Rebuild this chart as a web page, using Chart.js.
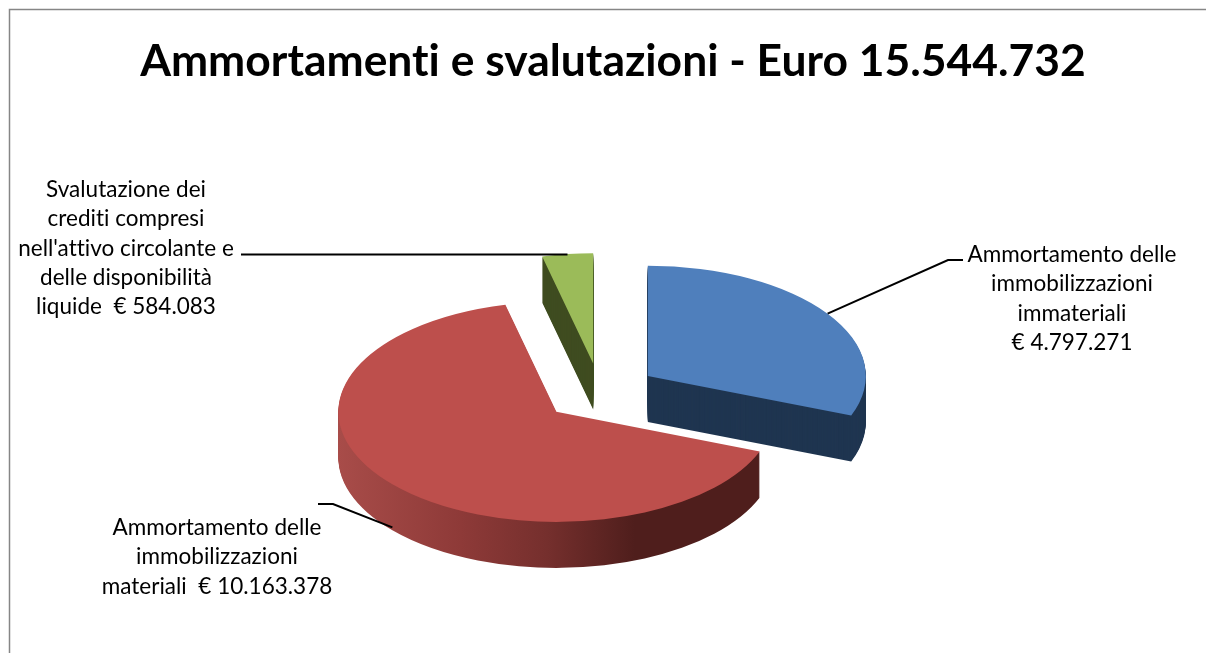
<!DOCTYPE html>
<html>
<head>
<meta charset="utf-8">
<title>Ammortamenti e svalutazioni</title>
<script src="https://cdn.jsdelivr.net/npm/chart.js@4/dist/chart.umd.min.js"></script>
<style>
  html, body { margin: 0; padding: 0; background: #fff; overflow: hidden; }
  #wrap { position: relative; width: 1206px; height: 653px; }
</style>
</head>
<body>
<div id="wrap"><canvas id="chart" width="1206" height="653"></canvas></div>
<script>
const chartTitle = 'Ammortamenti e svalutazioni - Euro 15.544.732';
const categories = [
  'Ammortamento delle immobilizzazioni immateriali',
  'Ammortamento delle immobilizzazioni materiali',
  'Svalutazione dei crediti compresi nell\'attivo circolante e delle disponibilità liquide'
];
const values = [4797271, 10163378, 584083];
const labelLines = [
  ['Ammortamento delle', 'immobilizzazioni', 'immateriali', '€ 4.797.271'],
  ['Ammortamento delle', 'immobilizzazioni', 'materiali  € 10.163.378'],
  ['Svalutazione dei', 'crediti compresi', 'nell\'attivo circolante e', 'delle disponibilità', 'liquide  € 584.083']
];

const topColors = ['#4f7fbc', '#bd4f4c', '#9bbb59'];
const sideColors = ['#1f3550', null, '#3f4c20'];

// pie "3D" geometry
const pieX = 600, pieY = 392.5;
const radius = 218;
const squash = 0.505;
const explode = 58;
const depth = 46;

// label placement: text centre, first baseline, elbow points of the leader
const labelPos = [
  { x: 1072, y: 262, leader: [[948, 260], [963, 260]] },
  { x: 217, y: 535, leader: [[333, 504], [318, 504]] },
  { x: 126, y: 197, leader: [[241, 254.5]] }
];
const lineStep = 29.3;

const fake3d = {
  id: 'fake3d',
  // no ligatures, the original has a plain "ti"
  beforeDraw(chart) {
    chart.ctx.letterSpacing = '0.01px';
  },
  // take over the arc drawing: same arcs, squashed and extruded
  beforeDatasetsDraw(chart) {
    const ctx = chart.ctx;
    const arcs = chart.getDatasetMeta(0).data;
    const order = [1, 2, 0];

    const place = (arc, dy) => {
      const mid = (arc.startAngle + arc.endAngle) / 2;
      ctx.translate(pieX + Math.cos(mid) * explode, pieY + Math.sin(mid) * explode * squash + dy);
      ctx.scale(1, squash);
      ctx.translate(-arc.x, -arc.y);
    };

    order.forEach(i => {
      const arc = arcs[i];
      const opts = arc.options;
      let side = sideColors[i];
      if (!side) {
        // red rim has a horizontal shade in the original
        const left = arc.x - radius;
        side = ctx.createLinearGradient(left, 0, left + radius * 2, 0);
        side.addColorStop(0, '#a84c49');
        side.addColorStop(0.28, '#8e3a38');
        side.addColorStop(0.48, '#752f2d');
        side.addColorStop(0.68, '#4f1e1c');
        side.addColorStop(1, '#4f1e1c');
      }
      arc.options = Object.assign({}, opts, { backgroundColor: side });
      for (let dy = depth; dy > 0; dy--) {
        ctx.save();
        place(arc, dy);
        arc.draw(ctx);
        ctx.restore();
      }
      arc.options = opts;
      ctx.save();
      place(arc, 0);
      arc.draw(ctx);
      ctx.restore();
    });
    return false;
  },
  afterDraw(chart) {
    const ctx = chart.ctx;
    const arcs = chart.getDatasetMeta(0).data;

    // frame, only top and left are in the picture
    ctx.save();
    ctx.strokeStyle = '#868686';
    ctx.lineWidth = 1.5;
    ctx.beginPath();
    ctx.moveTo(9.5, 653);
    ctx.lineTo(9.5, 9.5);
    ctx.lineTo(1206, 9.5);
    ctx.stroke();
    ctx.restore();

    // leaders start on the rim at the middle of each slice
    ctx.save();
    ctx.strokeStyle = '#000';
    ctx.lineWidth = 2;
    arcs.forEach((arc, i) => {
      const mid = (arc.startAngle + arc.endAngle) / 2;
      const sx = pieX + Math.cos(mid) * (explode + radius);
      const sy = pieY + Math.sin(mid) * (explode + radius) * squash + (i === 1 ? depth - 3 : 0);
      ctx.beginPath();
      ctx.moveTo(sx, i === 2 ? labelPos[i].leader[0][1] : sy);
      labelPos[i].leader.forEach(p => ctx.lineTo(p[0], p[1]));
      ctx.stroke();
    });
    ctx.restore();

    ctx.save();
    ctx.fillStyle = '#000';
    ctx.font = '22.5px Lato, Carlito, sans-serif';
    ctx.textAlign = 'center';
    labelLines.forEach((lines, i) => {
      lines.forEach((txt, n) => {
        ctx.fillText(txt, labelPos[i].x, labelPos[i].y + n * lineStep);
      });
    });
    ctx.restore();
  }
};

new Chart(document.getElementById('chart'), {
  type: 'pie',
  data: {
    labels: categories,
    datasets: [{
      data: values,
      backgroundColor: topColors,
      borderWidth: 0,
      radius: radius
    }]
  },
  options: {
    responsive: false,
    animation: false,
    layout: { padding: { left: 20 } },
    plugins: {
      legend: { display: false },
      tooltip: { enabled: false },
      title: {
        display: true,
        text: chartTitle,
        color: '#000',
        font: { family: 'Lato, Carlito, sans-serif', size: 44.4, weight: 'bold' },
        padding: { top: 35, bottom: 20 }
      }
    }
  },
  plugins: [fake3d]
});
</script>
</body>
</html>
